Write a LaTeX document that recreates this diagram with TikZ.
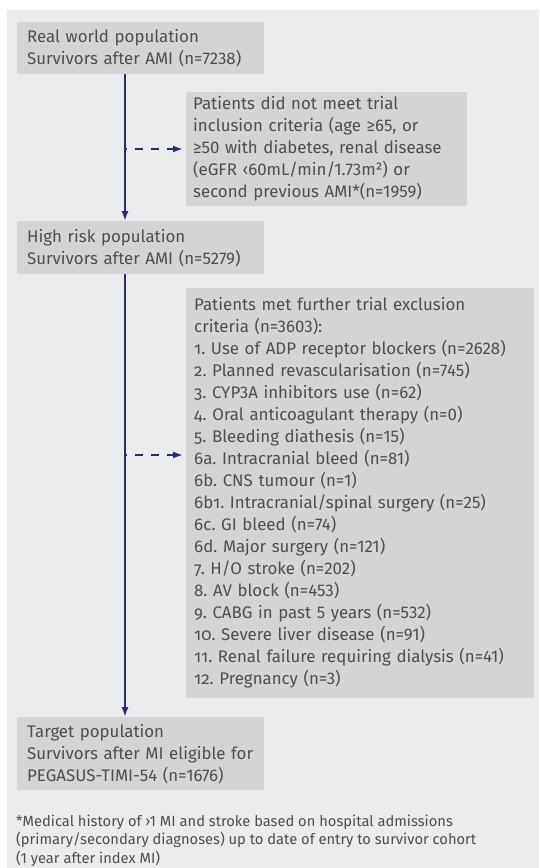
\documentclass[tikz,border=0pt]{standalone}
\usepackage{fontspec}
\setmainfont{Fira Sans}
\usetikzlibrary{arrows.meta}
\definecolor{panel}{RGB}{234,235,237}
\definecolor{boxfill}{RGB}{212,212,214}
\definecolor{txt}{RGB}{78,78,80}
\definecolor{navy}{RGB}{42,42,118}
\newcommand\onum[1]{{\addfontfeatures{Numbers={OldStyle,Proportional}}#1}}
\frenchspacing
\begin{document}
\begin{tikzpicture}[x=1pt,y=-1pt,
  boxnode/.style={fill=boxfill, anchor=north west, align=left, inner ysep=0pt,
    text=txt, font=\fontsize{16.85}{22}\selectfont\frenchspacing},
  mainline/.style={draw=navy, line width=1.8pt, -{Latex[length=10pt,width=7pt]}},
  dashline/.style={draw=navy, line width=1.8pt, dash pattern=on 8pt off 8pt, dash phase=-10pt,
    -{Latex[length=10pt,width=7pt]}, shorten >=3pt},
  notenode/.style={anchor=north west, align=left, inner sep=0pt, text=txt,
    font=\fontsize{14.7}{18.2}\selectfont\frenchspacing}]
\useasboundingbox (0,0) rectangle (539,868);
\fill[white] (0,0) rectangle (539,868);
\fill[panel] (7,10) rectangle (539,868);

\node[boxnode, inner xsep=10pt, text width=227pt, minimum width=247pt, minimum height=52pt] (b1) at (17,22)
  {Real world population\\Survivors after AMI (n=7238)};

\node[boxnode, inner xsep=7pt, text width=267pt, minimum width=281pt, minimum height=114pt] (b2) at (186,92)
  {Patients did not meet trial\\inclusion criteria (age ≥65, or\\≥50 with diabetes, renal disease\\(eGFR ‹60mL/min/1.73m²) or\\second previous AMI*(n=1959)};

\node[boxnode, inner xsep=10pt, text width=227pt, minimum width=247pt, minimum height=53pt] (b3) at (17,221)
  {High risk population\\Survivors after AMI (n=5279)};

\node[boxnode, inner xsep=8pt, text width=332pt, minimum width=348pt, minimum height=410pt] (b4) at (186,288)
  {Patients met further trial exclusion\\criteria (n=3603):\\
   \onum{1.} Use of ADP receptor blockers (n=2628)\\
   \onum{2.} Planned revascularisation (n=745)\\
   \onum{3.} CYP3A inhibitors use (n=62)\\
   \onum{4.} Oral anticoagulant therapy (n=0)\\
   \onum{5.} Bleeding diathesis (n=15)\\
   \onum{6a.} Intracranial bleed (n=81)\\
   \onum{6b.} CNS tumour (n=1)\\
   \onum{6b1.} Intracranial/spinal surgery (n=25)\\
   \onum{6c.} GI bleed (n=74)\\
   \onum{6d.} Major surgery (n=121)\\
   \onum{7.} H/O stroke (n=202)\\
   \onum{8.} AV block (n=453)\\
   \onum{9.} CABG in past 5 years (n=532)\\
   \onum{10.} Severe liver disease (n=91)\\
   \onum{11.} Renal failure requiring dialysis (n=41)\\
   \onum{12.} Pregnancy (n=3)};

\node[boxnode, inner xsep=10pt, text width=227pt, minimum width=247pt, minimum height=73pt] (b5) at (17,717)
  {Target population\\\mbox{Survivors after MI eligible for}\\PEGASUS-TIMI-54 (n=1676)};

\node[notenode] (note) at (16,815)
  {*Medical history of ›1 MI and stroke based on hospital admissions\\(primary/secondary diagnoses) up to date of entry to survivor cohort\\(1 year after index MI)};

\coordinate (spine) at (125,0);
\coordinate (d1) at (125,149);
\coordinate (d2) at (125,455);

\draw[mainline] (b1.south -| spine) -- (b3.north -| spine);
\draw[mainline] (b3.south -| spine) -- (b5.north -| spine);
\draw[dashline] (d1) -- (d1 -| b2.west);
\draw[dashline] (d2) -- (d2 -| b4.west);
\end{tikzpicture}
\end{document}
